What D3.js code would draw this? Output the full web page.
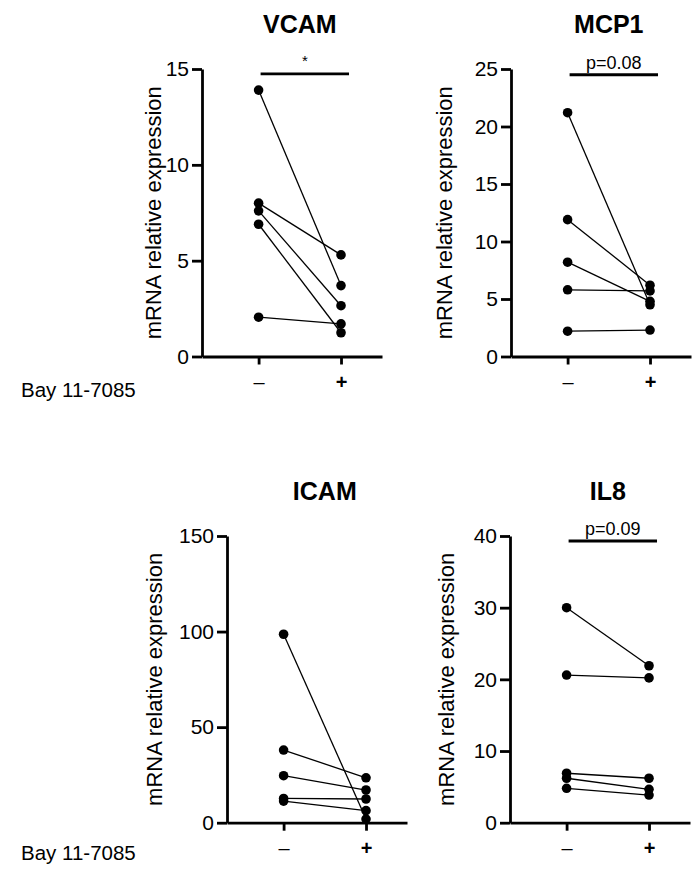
<!DOCTYPE html>
<html>
<head>
<meta charset="utf-8">
<script src="https://cdn.jsdelivr.net/npm/d3@7"></script>
<style>
  body { margin: 0; background: #fff; }
  text { font-family: Arial, "Liberation Sans", sans-serif; fill: #000; }
</style>
</head>
<body>
<script>
// data
var groups = ["\u2013", "+"];
var genes = ["VCAM", "MCP1", "ICAM", "IL8"];
var treatment = "Bay 11-7085";
var yLabel = "mRNA relative expression";

var vcamMinus = [13.9, 8.0, 7.6, 6.9, 2.05];
var vcamPlus  = [3.7, 5.3, 2.65, 1.24, 1.7];
var mcp1Minus = [21.2, 11.9, 8.2, 5.8, 2.2];
var mcp1Plus  = [4.5, 6.2, 4.8, 5.7, 2.3];
var icamMinus = [98.6, 38.0, 24.6, 12.7, 11.3];
var icamPlus  = [1.9, 23.5, 17.1, 12.4, 6.3];
var il8Minus  = [30.0, 20.6, 6.9, 6.2, 4.8];
var il8Plus   = [21.9, 20.2, 6.2, 4.65, 3.86];

var yMax = [15, 25, 150, 40];
var yTicks = [[0, 5, 10, 15], [0, 5, 10, 15, 20, 25], [0, 50, 100, 150], [0, 10, 20, 30, 40]];
var sigLabels = ["*", "p=0.08", "", "p=0.09"];
var sigLevel = [14.75, 24.5, 0, 39.3];

var minusVals = [vcamMinus, mcp1Minus, icamMinus, il8Minus];
var plusVals = [vcamPlus, mcp1Plus, icamPlus, il8Plus];

// layout of the four panels
var panels = [
  {ox: 202, top: 69,  bottom: 356.5, labelX: 161},
  {ox: 511, top: 69,  bottom: 356.5, labelX: 452},
  {ox: 227, top: 536, bottom: 822.7, labelX: 162},
  {ox: 510, top: 536, bottom: 822.7, labelX: 454}
];
var axisW = 180;

var svg = d3.select("body").append("svg")
    .attr("width", 694)
    .attr("height", 870);

svg.append("rect").attr("width", 694).attr("height", 870).attr("fill", "#fff");

genes.forEach(function(gene, i) {
  var p = panels[i];
  var g = svg.append("g")
      .attr("transform", "translate(" + p.ox + "," + p.top + ")");
  var h = p.bottom - p.top;

  var x = d3.scalePoint()
      .domain(groups)
      .range([0, axisW])
      .padding(0.592)
      .align(0.58);

  var y = d3.scaleLinear()
      .domain([0, yMax[i]])
      .range([h, 0]);

  // y axis
  var yAxis = g.append("g")
      .call(d3.axisLeft(y).tickValues(yTicks[i]).tickSize(10).tickPadding(3).tickSizeOuter(0));
  yAxis.select(".domain").attr("stroke-width", 2.8);
  yAxis.selectAll(".tick line").attr("stroke-width", 2.8);
  yAxis.selectAll("text").style("font-size", "21px").attr("fill", "#000");

  // x axis
  var xAxis = g.append("g")
      .attr("transform", "translate(0," + h + ")")
      .call(d3.axisBottom(x).tickSize(8).tickPadding(10).tickSizeOuter(0));
  xAxis.select(".domain").attr("stroke-width", 2.8);
  xAxis.selectAll(".tick line").attr("stroke-width", 2.8);
  xAxis.selectAll("text")
      .style("font-size", "20px")
      .style("font-weight", function(d) { return d == "+" ? "bold" : "normal"; })
      .attr("fill", function(d) { return d == "+" ? "#000" : "#777"; });

  // paired lines
  var pairs = minusVals[i].map(function(v, k) { return [v, plusVals[i][k]]; });
  g.selectAll(".pair")
      .data(pairs)
    .enter().append("line")
      .attr("class", "pair")
      .attr("x1", x(groups[0]))
      .attr("x2", x(groups[1]))
      .attr("y1", function(d) { return y(d[0]); })
      .attr("y2", function(d) { return y(d[1]); })
      .attr("stroke", "#000")
      .attr("stroke-width", 1.3);

  var pts = [];
  pairs.forEach(function(d) {
    pts.push({g: groups[0], v: d[0]});
    pts.push({g: groups[1], v: d[1]});
  });
  g.selectAll(".dot")
      .data(pts)
    .enter().append("circle")
      .attr("class", "dot")
      .attr("r", 4.8)
      .attr("cx", function(d) { return x(d.g); })
      .attr("cy", function(d) { return y(d.v); })
      .attr("fill", "#000");

  var mid = (x(groups[0]) + x(groups[1])) / 2;

  // title
  g.append("text")
      .attr("x", mid)
      .attr("y", -36)
      .attr("text-anchor", "middle")
      .style("font-size", "25px")
      .style("font-weight", "bold")
      .text(gene);

  // significance bar
  if (sigLabels[i]) {
    var by = y(sigLevel[i]);
    g.append("line")
        .attr("x1", x(groups[0]) + 2)
        .attr("x2", x(groups[1]) + 8)
        .attr("y1", by)
        .attr("y2", by)
        .attr("stroke", "#000")
        .attr("stroke-width", 2.8);
    g.append("text")
        .attr("x", (x(groups[0]) + x(groups[1]) + 10) / 2)
        .attr("y", sigLabels[i] == "*" ? by - 8 : by - 6)
        .attr("text-anchor", "middle")
        .style("font-size", sigLabels[i] == "*" ? "15px" : "18px")
        .text(sigLabels[i]);
  }

  // y label
  svg.append("text")
      .attr("transform", "translate(" + p.labelX + "," + (p.top + h / 2) + ") rotate(-90)")
      .attr("text-anchor", "middle")
      .style("font-size", "22px")
      .text(yLabel);
});

// treatment row labels
[396.5, 860].forEach(function(yy) {
  svg.append("text")
      .attr("x", 21)
      .attr("y", yy)
      .style("font-size", "20.5px")
      .text(treatment);
});
</script>
</body>
</html>
